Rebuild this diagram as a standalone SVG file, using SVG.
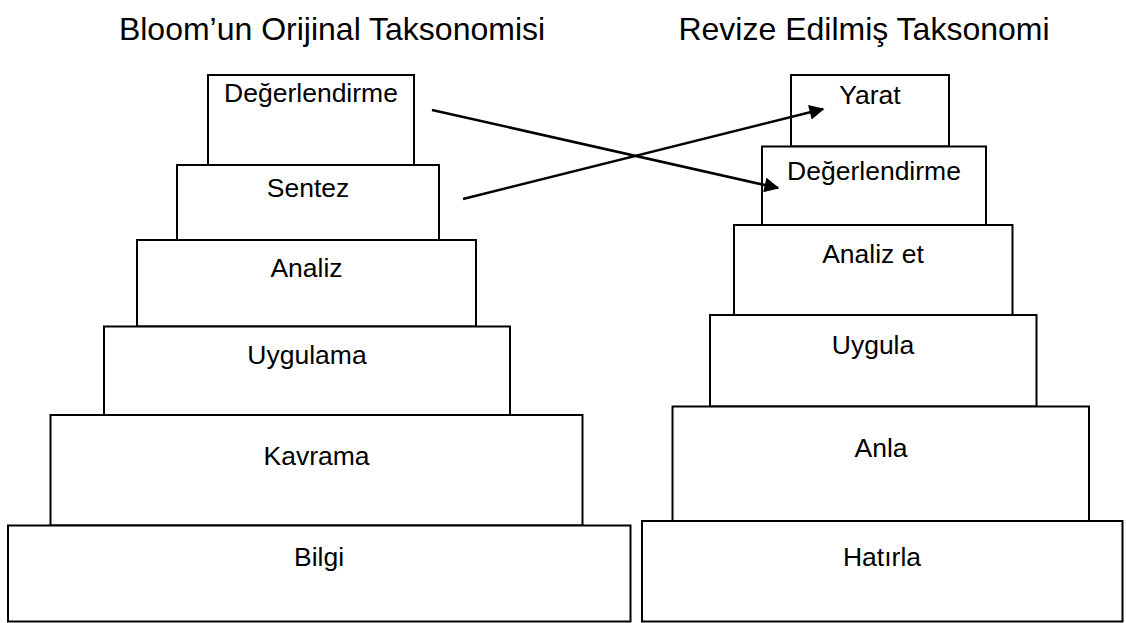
<svg xmlns="http://www.w3.org/2000/svg" width="1126" height="623" viewBox="0 0 1126 623">
  <style>
    .box { fill: #ffffff; stroke: #000000; stroke-width: 2; }
    .lbl { font-family: "Liberation Sans", Arial, sans-serif; font-size: 26.5px; fill: #000000; text-anchor: middle; }
    .ttl { font-family: "Liberation Sans", Arial, sans-serif; font-size: 32px; fill: #000000; text-anchor: middle; }
    .conn { stroke: #000000; stroke-width: 2.5; fill: none; marker-end: url(#arrow); }
  </style>
  <defs>
    <marker id="arrow" viewBox="0 0 10 10" refX="9" refY="5" markerWidth="7" markerHeight="6" orient="auto" markerUnits="strokeWidth">
      <path d="M0,0 L10,5 L0,10 z" fill="#000000"/>
    </marker>
  </defs>

  <g id="titles">
    <text class="ttl" x="332" y="40">Bloom’un Orijinal Taksonomisi</text>
    <text class="ttl" x="864" y="40">Revize Edilmiş Taksonomi</text>
  </g>

  <g id="left-degerlendirme">
    <rect class="box" x="208" y="75" width="206" height="90"/>
    <text class="lbl" x="311" y="102">Değerlendirme</text>
  </g>
  <g id="left-sentez">
    <rect class="box" x="177" y="165" width="262" height="75"/>
    <text class="lbl" x="308" y="197">Sentez</text>
  </g>
  <g id="left-analiz">
    <rect class="box" x="137" y="240" width="339" height="86.5"/>
    <text class="lbl" x="306.5" y="277">Analiz</text>
  </g>
  <g id="left-uygulama">
    <rect class="box" x="104" y="326.5" width="406" height="88.5"/>
    <text class="lbl" x="307" y="364">Uygulama</text>
  </g>
  <g id="left-kavrama">
    <rect class="box" x="50.5" y="415" width="532" height="110.5"/>
    <text class="lbl" x="316.5" y="465">Kavrama</text>
  </g>
  <g id="left-bilgi">
    <rect class="box" x="8" y="525.5" width="622.5" height="96"/>
    <text class="lbl" x="319" y="566">Bilgi</text>
  </g>

  <g id="right-yarat">
    <rect class="box" x="791" y="75" width="158" height="71.5"/>
    <text class="lbl" x="870" y="104">Yarat</text>
  </g>
  <g id="right-degerlendirme">
    <rect class="box" x="762" y="146.5" width="224" height="78.5"/>
    <text class="lbl" x="874" y="180">Değerlendirme</text>
  </g>
  <g id="right-analiz-et">
    <rect class="box" x="734" y="225" width="278.5" height="90"/>
    <text class="lbl" x="873" y="263">Analiz et</text>
  </g>
  <g id="right-uygula">
    <rect class="box" x="710" y="315" width="326.5" height="91.5"/>
    <text class="lbl" x="873" y="354">Uygula</text>
  </g>
  <g id="right-anla">
    <rect class="box" x="672.5" y="406.5" width="416.5" height="114.5"/>
    <text class="lbl" x="881" y="457">Anla</text>
  </g>
  <g id="right-hatirla">
    <rect class="box" x="642" y="521" width="480.5" height="100.5"/>
    <text class="lbl" x="882" y="565.5">Hatırla</text>
  </g>

  <g id="connectors">
    <line class="conn" x1="432" y1="110" x2="778" y2="188"/>
    <line class="conn" x1="463" y1="199" x2="823" y2="109"/>
  </g>
</svg>
